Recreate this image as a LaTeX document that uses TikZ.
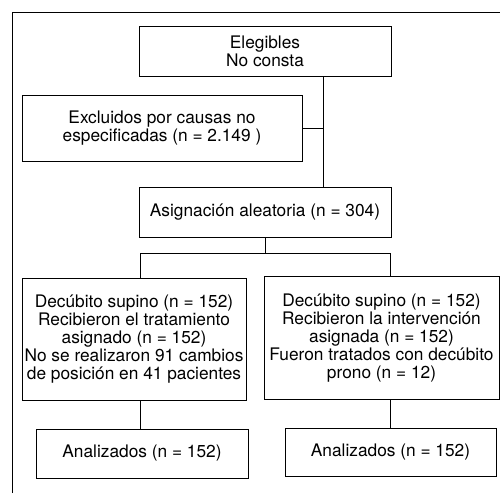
\documentclass[tikz,border=0pt]{standalone}
\usepackage{fontspec}
\setmainfont{TeX Gyre Heros}
\usepackage{tikz}
\usetikzlibrary{positioning}

\tikzset{
  caja/.style={draw, line width=1pt, align=center, inner sep=0pt,
    font=\fontsize{17.3}{17.8}\selectfont},
  linea/.style={line width=1pt}
}

\begin{document}
\begin{tikzpicture}[x=1pt,y=-1pt]
    \useasboundingbox (0,0) rectangle (500,493);
    \draw[linea] (12,493) -- (12,12) -- (500,12);
    \node[caja, minimum width=252pt, minimum height=50pt] (elig)
      at (265,51) {Elegibles\\No consta};
    \node[caja, minimum width=280pt, minimum height=66pt] (excl)
      at (162,128) {Excluidos por causas no\\especificadas (n = 2.149 )};
    \node[caja, minimum width=252pt, minimum height=50pt] (asig)
      at (265,212) {Asignación aleatoria (n = 304)};
    \node[caja, minimum width=224pt, minimum height=122pt] (supL)
      at (134,339) {Decúbito supino (n = 152)\\Recibieron el tratamiento\\asignado (n = 152)\\No se realizaron 91 cambios\\de posición en 41 pacientes};
    \node[caja, minimum width=235pt, minimum height=123pt] (supR)
      at (381.5,338) {Decúbito supino (n = 152)\\Recibieron la intervención\\asignada (n = 152)\\Fueron tratados con decúbito\\prono (n = 12)};
    \node[caja, minimum width=212pt, minimum height=49pt] (anaL)
      at (142,453.5) {Analizados (n = 152)};
    \node[caja, minimum width=211pt, minimum height=48pt] (anaR)
      at (390.5,452) {Analizados (n = 152)};
    % conectores
    \coordinate (j1) at (323,128);
    \coordinate (split) at (265,253);
    \coordinate (bl) at (140,253);
    \coordinate (br) at (390,253);
    \draw[linea] (elig.south -| j1) -- (asig.north -| j1);
    \draw[linea] (excl.east) -- (j1);
    \draw[linea] (asig.south) -- (split);
    \draw[linea] (bl |- supL.north) -- (bl) -- (br) -- (br |- supR.north);
    \draw[linea] (supL.south -| bl) -- (anaL.north -| bl);
    \draw[linea] (supR.south -| anaR.north) -- (anaR.north);
\end{tikzpicture}
\end{document}
